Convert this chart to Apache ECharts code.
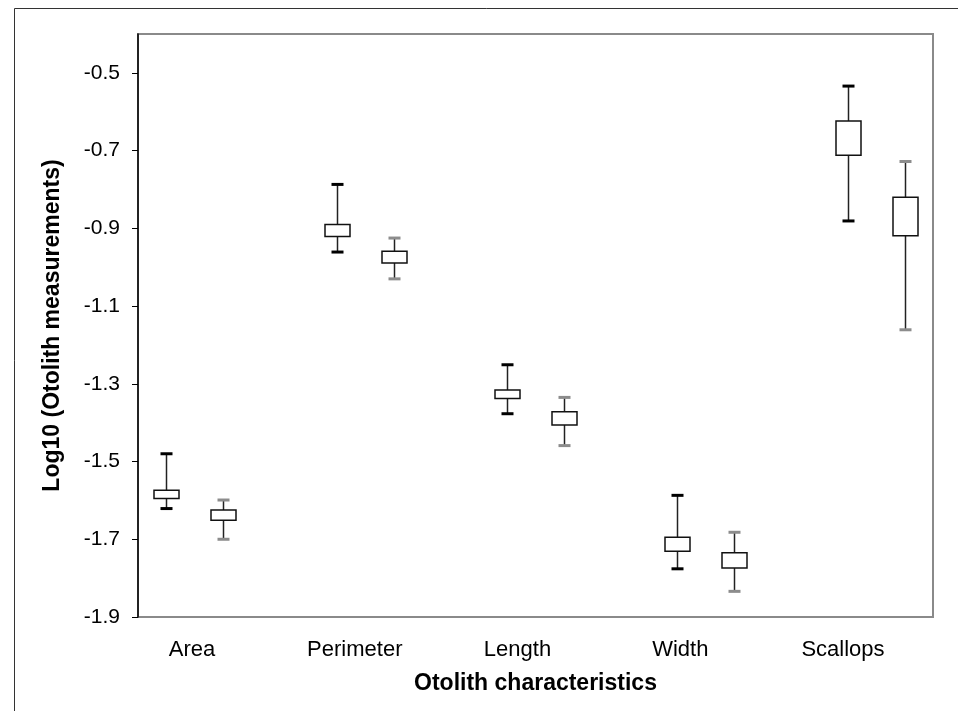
<!DOCTYPE html>
<html><head><meta charset="utf-8">
<script src="https://cdn.jsdelivr.net/npm/echarts@6/dist/echarts.min.js"></script>
<style>html,body{margin:0;padding:0;background:#fff}#c{width:958px;height:711px}</style>
</head><body><div id="c"></div>
<script>
const categories = ['Area', 'Perimeter', 'Length', 'Width', 'Scallops'];
// each entry: [low whisker, box bottom, box top, high whisker]
const group1 = [
  [-1.621, -1.595, -1.574, -1.480],
  [-0.961, -0.921, -0.890, -0.787],
  [-1.377, -1.338, -1.316, -1.251],
  [-1.776, -1.731, -1.695, -1.587],
  [-0.881, -0.712, -0.624, -0.534]
];
const group2 = [
  [-1.700, -1.651, -1.625, -1.599],
  [-1.030, -0.989, -0.959, -0.925],
  [-1.459, -1.406, -1.372, -1.335],
  [-1.834, -1.774, -1.735, -1.682],
  [-1.161, -0.919, -0.820, -0.728]
];
const yTicks = [-1.9, -1.7, -1.5, -1.3, -1.1, -0.9, -0.7, -0.5];
const yTitle = 'Log10 (Otolith measurements)';
const xTitle = 'Otolith characteristics';

const FONT = '"Liberation Sans", Arial, sans-serif';
const chart = echarts.init(document.getElementById('c'), null, {renderer: 'canvas'});

function renderBox(capColor) {
  return function (params, api) {
    const x = api.value(0);
    const pLow = api.coord([x, api.value(1)]);
    const pQ1 = api.coord([x, api.value(2)]);
    const pQ3 = api.coord([x, api.value(3)]);
    const pHigh = api.coord([x, api.value(4)]);
    const bw = 25, cw = 12, ch = 3;
    const cx = Math.round(pLow[0]) + 0.5;
    return {
      type: 'group',
      children: [
        {type: 'line', shape: {x1: cx, y1: pHigh[1], x2: cx, y2: pQ3[1]}, style: {stroke: '#222', lineWidth: 1.5}},
        {type: 'line', shape: {x1: cx, y1: pQ1[1], x2: cx, y2: pLow[1]}, style: {stroke: '#222', lineWidth: 1.5}},
        {type: 'rect', shape: {x: cx - bw / 2, y: pQ3[1], width: bw, height: pQ1[1] - pQ3[1]},
          style: {fill: '#fff', stroke: '#111', lineWidth: 1.5}},
        {type: 'rect', shape: {x: cx - cw / 2, y: pHigh[1] - ch / 2, width: cw, height: ch}, style: {fill: capColor}},
        {type: 'rect', shape: {x: cx - cw / 2, y: pLow[1] - ch / 2, width: cw, height: ch}, style: {fill: capColor}}
      ]
    };
  };
}

const data1 = categories.map((c, i) => [i - 1 / 6].concat(group1[i]));
const data2 = categories.map((c, i) => [i + 1 / 6].concat(group2[i]));

chart.setOption({
  animation: false,
  backgroundColor: '#fff',
  graphic: [{
    type: 'rect', left: 12, top: 6, silent: true,
    shape: {x: 0.5, y: 0.5, width: 1000, height: 1000},
    style: {fill: 'none', stroke: '#333', lineWidth: 1}
  }],
  grid: {left: 138, top: 34, right: 25, bottom: 94, show: true, borderColor: '#8a8a8a', borderWidth: 2, backgroundColor: '#fff'},
  xAxis: [{
    type: 'value', min: -1 / 3, max: 13 / 3,
    axisLine: {show: false}, axisTick: {show: false}, axisLabel: {show: false}, splitLine: {show: false}
  }, {
    type: 'value', position: 'bottom', min: -0.332, max: 4.553,
    axisLine: {show: false}, axisTick: {show: false}, splitLine: {show: false},
    axisLabel: {
      customValues: categories.map((c, i) => i),
      formatter: v => categories[Math.round(v)],
      color: '#000', fontFamily: FONT, fontSize: 22, margin: 22
    },
    name: xTitle, nameLocation: 'middle', nameGap: 55,
    nameTextStyle: {color: '#000', fontFamily: FONT, fontSize: 23, fontWeight: 'bold'}
  }],
  yAxis: {
    type: 'value', min: -1.9, max: -0.4, interval: 0.2,
    axisLine: {show: true, onZero: false, lineStyle: {color: '#000', width: 1.5}},
    axisTick: {show: true, length: 6, customValues: yTicks, lineStyle: {color: '#000', width: 1}},
    axisLabel: {customValues: yTicks, formatter: v => v.toFixed(1), color: '#000', fontFamily: FONT, fontSize: 21, margin: 18},
    splitLine: {show: false},
    name: yTitle, nameLocation: 'middle', nameGap: 74,
    nameTextStyle: {color: '#000', fontFamily: FONT, fontSize: 23, fontWeight: 'bold'}
  },
  series: [{
    type: 'custom', name: 'Group 1', xAxisIndex: 0, yAxisIndex: 0,
    renderItem: renderBox('#000'), data: data1, encode: {x: 0, y: [1, 2, 3, 4]}
  }, {
    type: 'custom', name: 'Group 2', xAxisIndex: 0, yAxisIndex: 0,
    renderItem: renderBox('#8c8c8c'), data: data2, encode: {x: 0, y: [1, 2, 3, 4]}
  }]
});
</script>
</body></html>
